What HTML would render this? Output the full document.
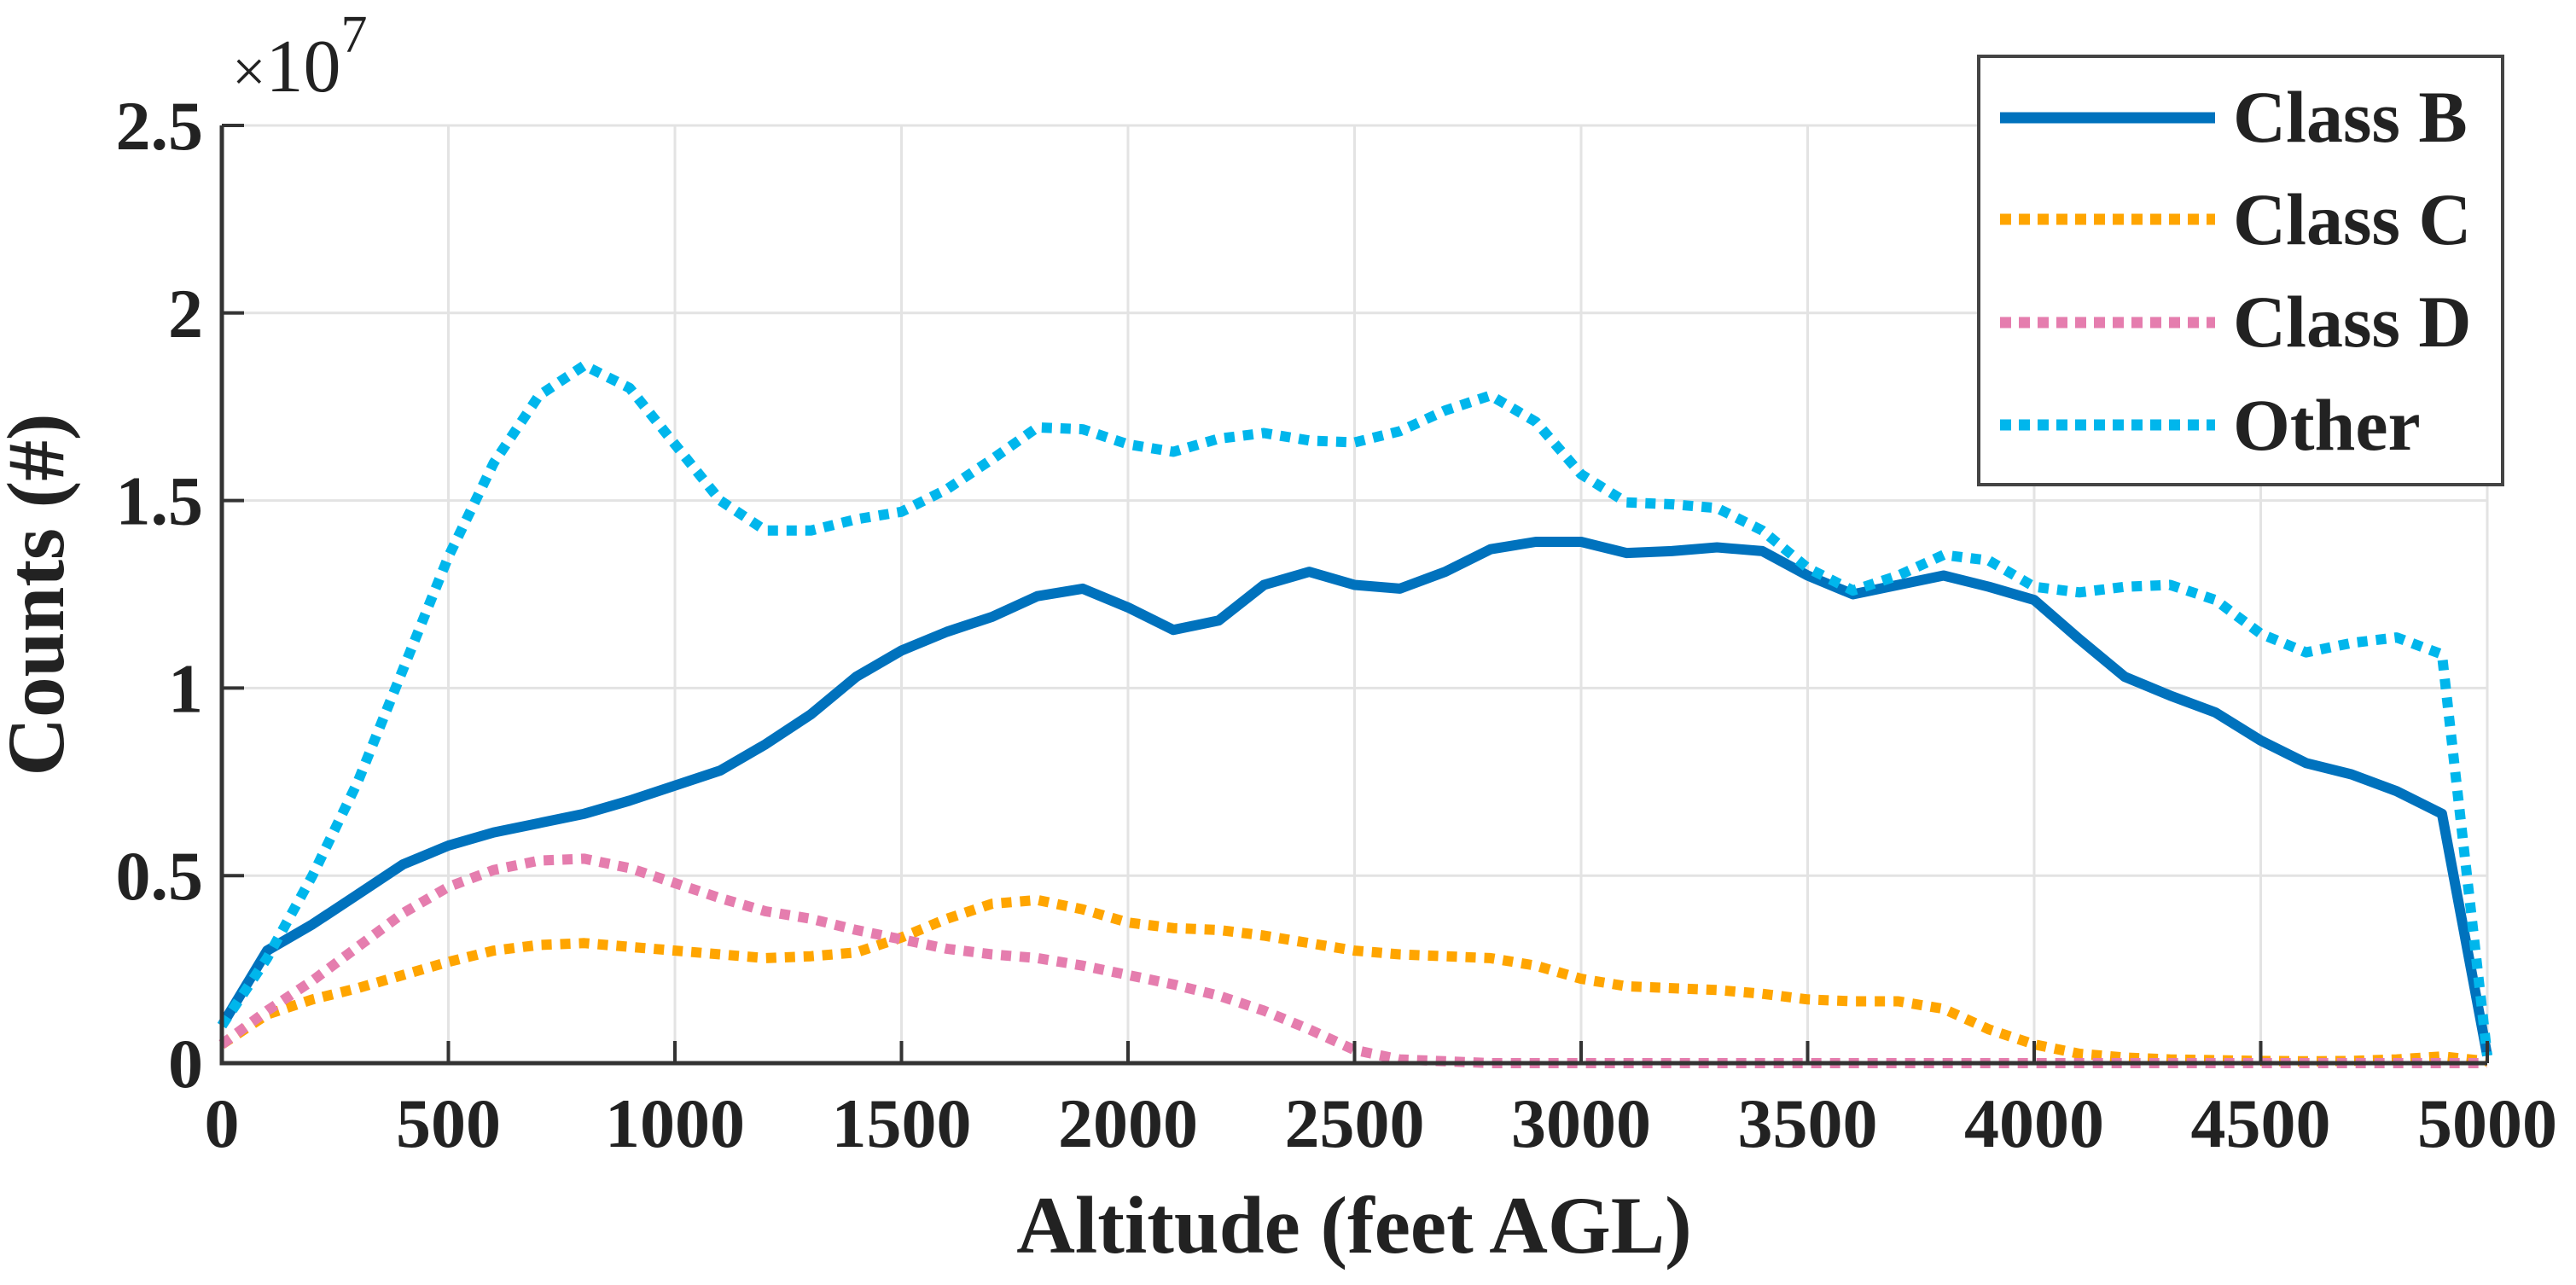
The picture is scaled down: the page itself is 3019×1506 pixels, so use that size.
<!DOCTYPE html>
<html><head><meta charset="utf-8"><style>
html,body{margin:0;padding:0;background:#fff;}
svg{display:block;}
text{font-family:"Liberation Serif",serif;fill:#222;}
</style></head><body>
<svg id="chart" width="3019" height="1506" viewBox="0 0 3019 1506" xmlns="http://www.w3.org/2000/svg">
<g id="grid"></g>
<g id="series"></g>
<g id="axes"></g>
<text x="272" y="107" font-size="88"><tspan font-size="70">×</tspan>10<tspan font-size="62" dy="-46">7</tspan></text>
<text transform="translate(74,697) rotate(-90)" text-anchor="middle" font-size="95" font-weight="bold">Counts (#)</text>
<text x="1587" y="1468" text-anchor="middle" font-size="95" font-weight="bold">Altitude (feet AGL)</text>
<g>
<rect x="2319" y="66" width="614" height="502" fill="#fff" stroke="#444" stroke-width="4"/>
<line x1="2344" y1="138" x2="2596" y2="138" stroke="#0072BD" stroke-width="13"/>
<text x="2617" y="166" font-size="86" font-weight="bold" fill="#111">Class B</text>
<line x1="2344" y1="257" x2="2596" y2="257" stroke="#FFA500" stroke-width="13" stroke-dasharray="13 9"/>
<text x="2617" y="286" font-size="86" font-weight="bold" fill="#111">Class C</text>
<line x1="2344" y1="378" x2="2596" y2="378" stroke="#E57DAE" stroke-width="13" stroke-dasharray="13 9"/>
<text x="2617" y="406" font-size="86" font-weight="bold" fill="#111">Class D</text>
<line x1="2344" y1="498" x2="2596" y2="498" stroke="#00B6EC" stroke-width="13" stroke-dasharray="13 9"/>
<text x="2617" y="527" font-size="86" font-weight="bold" fill="#111">Other</text>
</g>
</svg>
<script>
const altitudes = [0,100,200,300,400,500,600,700,800,900,1000,1100,1200,1300,1400,1500,1600,1700,1800,1900,2000,2100,2200,2300,2400,2500,2600,2700,2800,2900,3000,3100,3200,3300,3400,3500,3600,3700,3800,3900,4000,4100,4200,4300,4400,4500,4600,4700,4800,4900,5000];
const classB = [0.1,0.3,0.37,0.45,0.53,0.58,0.615,0.64,0.665,0.70,0.74,0.78,0.85,0.93,1.03,1.10,1.15,1.19,1.245,1.265,1.215,1.155,1.18,1.275,1.31,1.275,1.265,1.31,1.37,1.39,1.39,1.36,1.365,1.375,1.365,1.30,1.25,1.275,1.30,1.27,1.235,1.13,1.03,0.98,0.935,0.86,0.80,0.77,0.725,0.665,0.02];
const classC = [0.05,0.13,0.17,0.20,0.235,0.27,0.30,0.315,0.32,0.31,0.30,0.29,0.28,0.285,0.295,0.335,0.385,0.425,0.435,0.41,0.375,0.36,0.355,0.34,0.32,0.30,0.29,0.285,0.28,0.26,0.225,0.205,0.20,0.195,0.185,0.17,0.165,0.165,0.145,0.09,0.05,0.025,0.015,0.01,0.008,0.006,0.005,0.006,0.01,0.018,0.005];
const classD = [0.05,0.14,0.22,0.31,0.40,0.47,0.515,0.54,0.545,0.52,0.48,0.44,0.405,0.385,0.355,0.33,0.305,0.29,0.28,0.26,0.235,0.21,0.18,0.14,0.09,0.035,0.01,0.005,0,0,0,0,0,0,0,0,0,0,0,0,0,0,0,0,0,0,0,0,0,0,0];
const other = [0.1,0.28,0.5,0.75,1.05,1.35,1.6,1.78,1.86,1.8,1.65,1.5,1.42,1.42,1.45,1.47,1.53,1.61,1.695,1.69,1.65,1.63,1.665,1.68,1.66,1.655,1.685,1.74,1.78,1.71,1.57,1.495,1.49,1.48,1.42,1.32,1.26,1.30,1.355,1.34,1.27,1.255,1.27,1.275,1.235,1.145,1.095,1.12,1.135,1.09,0.02];
const xTicks = [0,500,1000,1500,2000,2500,3000,3500,4000,4500,5000];
const yTicks = [0,0.5,1,1.5,2,2.5];
const yTickLabels = ["0","0.5","1","1.5","2","2.5"];

const NS="http://www.w3.org/2000/svg";
const L=260,R=2915,T=147,B=1246;
function xs(v){return L+(v-0)/(5000-0)*(R-L);}
function ys(v){return B-(v-0)/(2.5-0)*(B-T);}
function mk(tag,attrs,parent){const e=document.createElementNS(NS,tag);for(const k in attrs)e.setAttribute(k,attrs[k]);parent.appendChild(e);return e;}
const grid=document.getElementById('grid'),axes=document.getElementById('axes'),ser=document.getElementById('series');
xTicks.forEach(t=>{
  const g=mk('line',{x1:xs(t),x2:xs(t),y1:T,y2:B,stroke:'#e3e3e3','stroke-width':3},grid);
  
  
  const tk=mk('line',{x1:xs(t),x2:xs(t),y1:B,y2:B-26,stroke:'#333','stroke-width':4},axes);
  
  
  const lb=mk('text',{x:xs(t),y:B+98,'text-anchor':'middle','font-size':82,'font-weight':'bold'},axes);
  lb.textContent=String(t);
  
  
});
yTicks.forEach((t,i)=>{
  const g=mk('line',{x1:L,x2:R,y1:ys(t),y2:ys(t),stroke:'#e3e3e3','stroke-width':3},grid);
  
  
  const tk=mk('line',{x1:L,x2:L+26,y1:ys(t),y2:ys(t),stroke:'#333','stroke-width':4},axes);
  
  
  const lb=mk('text',{x:L-22,y:ys(t)+28,'text-anchor':'end','font-size':82,'font-weight':'bold'},axes);
  lb.textContent=yTickLabels[i];
  
  
});
const ax=mk('path',{d:`M${L},${T} L${L},${B} L${R},${B}`,fill:'none',stroke:'#333','stroke-width':5},axes);


function line(vals,color,dash,name){
  const d=vals.map((v,i)=>(i?'L':'M')+xs(altitudes[i]).toFixed(1)+','+ys(v).toFixed(1)).join(' ');
  const p=mk('path',{d:d,fill:'none',stroke:color,'stroke-width':12,'stroke-linejoin':'round'},ser);
  if(dash)p.setAttribute('stroke-dasharray',dash);
  
  
}
line(classB,'#0072BD',null,'series-class-b');
line(classC,'#FFA500','12 10','series-class-c');
line(classD,'#E57DAE','12 10','series-class-d');
line(other,'#00B6EC','12 10','series-other');
</script>
</body></html>
